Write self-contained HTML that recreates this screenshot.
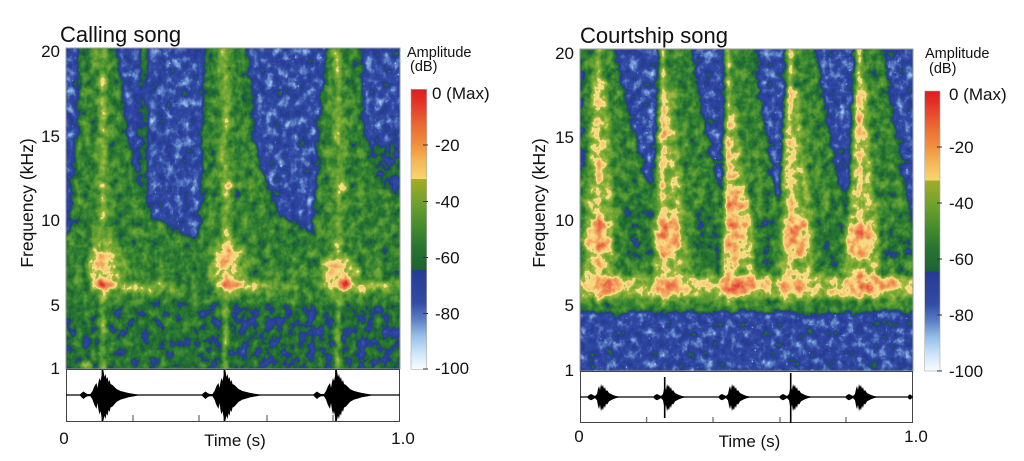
<!DOCTYPE html>
<html>
<head>
<meta charset="utf-8">
<style>
html,body{margin:0;padding:0;background:#fff;}
svg{display:block;}
text{font-family:"Liberation Sans",Arial,sans-serif;fill:#111;}
</style>
</head>
<body>
<svg width="1024" height="461" viewBox="0 0 1024 461" xmlns="http://www.w3.org/2000/svg">
<defs>
  <linearGradient id="cbar" x1="0" y1="0" x2="0" y2="1">
    <stop offset="0" stop-color="#de1c20"/>
    <stop offset="0.04" stop-color="#e23026"/>
    <stop offset="0.12" stop-color="#ea6432"/>
    <stop offset="0.20" stop-color="#f0913e"/>
    <stop offset="0.26" stop-color="#f5b958"/>
    <stop offset="0.32" stop-color="#f6d66e"/>
    <stop offset="0.32" stop-color="#a5ac26"/>
    <stop offset="0.40" stop-color="#73a22d"/>
    <stop offset="0.48" stop-color="#4b8e2d"/>
    <stop offset="0.56" stop-color="#287630"/>
    <stop offset="0.645" stop-color="#1c6234"/>
    <stop offset="0.645" stop-color="#263a94"/>
    <stop offset="0.76" stop-color="#324ba5"/>
    <stop offset="0.82" stop-color="#5a7dc3"/>
    <stop offset="0.88" stop-color="#96bee8"/>
    <stop offset="0.94" stop-color="#cde4f8"/>
    <stop offset="1" stop-color="#fafcff"/>
  </linearGradient>

  <clipPath id="cL"><rect x="0" y="0" width="334" height="321"/></clipPath>
  <clipPath id="cR"><rect x="0" y="0" width="333" height="322"/></clipPath>

  <filter id="fL" filterUnits="userSpaceOnUse" x="-10" y="-10" width="354" height="342" color-interpolation-filters="sRGB">
    <feGaussianBlur in="SourceGraphic" stdDeviation="2" result="b0"/>
    <feColorMatrix in="b0" type="matrix" values="1 0 0 0 0 0 1 0 0 0 0 0 1 0 0 0 0 0 0 1" result="b"/>
    <feTurbulence type="fractalNoise" baseFrequency="0.12 0.1" numOctaves="3" seed="4" result="t1"/>
    <feColorMatrix in="t1" type="matrix" values="1 0 0 0 0 1 0 0 0 0 1 0 0 0 0 0 0 0 0 1" result="n1"/>
    <feComposite in="b" in2="n1" operator="arithmetic" k1="0" k2="1" k3="0.38" k4="-0.19" result="c"/>
    <feColorMatrix in="c" type="matrix" values="1 0 0 0 0 0 1 0 0 0 0 0 1 0 0 0 0 0 0 1" result="c1"/>
    <feTurbulence type="fractalNoise" baseFrequency="0.35" numOctaves="1" seed="9" result="t2"/>
    <feColorMatrix in="t2" type="matrix" values="1 0 0 0 0 1 0 0 0 0 1 0 0 0 0 0 0 0 0 1" result="n2"/>
    <feComponentTransfer in="n2" result="s">
      <feFuncR type="linear" slope="7" intercept="-4.8"/>
      <feFuncG type="linear" slope="7" intercept="-4.8"/>
      <feFuncB type="linear" slope="7" intercept="-4.8"/>
    </feComponentTransfer>
    <feComponentTransfer in="b" result="m">
      <feFuncR type="linear" slope="-25" intercept="8.25"/>
      <feFuncG type="linear" slope="-25" intercept="8.25"/>
      <feFuncB type="linear" slope="-25" intercept="8.25"/>
    </feComponentTransfer>
    <feComposite in="s" in2="m" operator="arithmetic" k1="1" k2="0" k3="0" k4="0" result="sm"/>
    <feComponentTransfer in="sm" result="mult">
      <feFuncR type="linear" slope="-0.5" intercept="1"/>
      <feFuncG type="linear" slope="-0.5" intercept="1"/>
      <feFuncB type="linear" slope="-0.5" intercept="1"/>
    </feComponentTransfer>
    <feComposite in="c1" in2="mult" operator="arithmetic" k1="1" k2="0" k3="0" k4="0" result="c2"/>
    <feComponentTransfer in="c2">
      <feFuncR type="table" tableValues=".980 .922 .863 .804 .733 .659 .588 .510 .431 .353 .302 .247 .196 .188 .176 .169 .157 .149 .110 .125 .145 .161 .176 .216 .255 .294 .333 .373 .412 .451 .490 .557 .620 .686 .980 .976 .976 .973 .965 .957 .949 .941 .937 .929 .925 .918 .910 .902 .894 .882 .871"/>
      <feFuncG type="table" tableValues=".988 .957 .925 .894 .843 .796 .745 .659 .576 .490 .424 .361 .294 .282 .267 .255 .239 .227 .384 .412 .439 .463 .490 .518 .545 .569 .596 .616 .635 .655 .675 .698 .722 .745 .894 .863 .835 .804 .745 .686 .627 .580 .529 .482 .431 .384 .333 .286 .235 .188 .137"/>
      <feFuncB type="table" tableValues="1 .992 .980 .973 .953 .929 .910 .863 .812 .765 .725 .686 .647 .635 .620 .608 .592 .580 .204 .204 .200 .196 .196 .196 .196 .196 .196 .200 .204 .212 .216 .235 .255 .275 .549 .522 .498 .471 .431 .392 .353 .337 .322 .310 .294 .275 .255 .235 .216 .188 .157"/>
    </feComponentTransfer>
  </filter>

  <filter id="fR" filterUnits="userSpaceOnUse" x="-10" y="-10" width="353" height="342" color-interpolation-filters="sRGB">
    <feGaussianBlur in="SourceGraphic" stdDeviation="2" result="b0"/>
    <feColorMatrix in="b0" type="matrix" values="1 0 0 0 0 0 1 0 0 0 0 0 1 0 0 0 0 0 0 1" result="b"/>
    <feTurbulence type="fractalNoise" baseFrequency="0.12 0.1" numOctaves="3" seed="11" result="t1"/>
    <feColorMatrix in="t1" type="matrix" values="1 0 0 0 0 1 0 0 0 0 1 0 0 0 0 0 0 0 0 1" result="n1"/>
    <feComposite in="b" in2="n1" operator="arithmetic" k1="0" k2="1" k3="0.38" k4="-0.19" result="c"/>
    <feColorMatrix in="c" type="matrix" values="1 0 0 0 0 0 1 0 0 0 0 0 1 0 0 0 0 0 0 1" result="c1"/>
    <feTurbulence type="fractalNoise" baseFrequency="0.35" numOctaves="1" seed="23" result="t2"/>
    <feColorMatrix in="t2" type="matrix" values="1 0 0 0 0 1 0 0 0 0 1 0 0 0 0 0 0 0 0 1" result="n2"/>
    <feComponentTransfer in="n2" result="s">
      <feFuncR type="linear" slope="7" intercept="-4.8"/>
      <feFuncG type="linear" slope="7" intercept="-4.8"/>
      <feFuncB type="linear" slope="7" intercept="-4.8"/>
    </feComponentTransfer>
    <feComponentTransfer in="b" result="m">
      <feFuncR type="linear" slope="-25" intercept="8.25"/>
      <feFuncG type="linear" slope="-25" intercept="8.25"/>
      <feFuncB type="linear" slope="-25" intercept="8.25"/>
    </feComponentTransfer>
    <feComposite in="s" in2="m" operator="arithmetic" k1="1" k2="0" k3="0" k4="0" result="sm"/>
    <feComponentTransfer in="sm" result="mult">
      <feFuncR type="linear" slope="-0.5" intercept="1"/>
      <feFuncG type="linear" slope="-0.5" intercept="1"/>
      <feFuncB type="linear" slope="-0.5" intercept="1"/>
    </feComponentTransfer>
    <feComposite in="c1" in2="mult" operator="arithmetic" k1="1" k2="0" k3="0" k4="0" result="c2"/>
    <feComponentTransfer in="c2">
      <feFuncR type="table" tableValues=".980 .922 .863 .804 .733 .659 .588 .510 .431 .353 .302 .247 .196 .188 .176 .169 .157 .149 .110 .125 .145 .161 .176 .216 .255 .294 .333 .373 .412 .451 .490 .557 .620 .686 .980 .976 .976 .973 .965 .957 .949 .941 .937 .929 .925 .918 .910 .902 .894 .882 .871"/>
      <feFuncG type="table" tableValues=".988 .957 .925 .894 .843 .796 .745 .659 .576 .490 .424 .361 .294 .282 .267 .255 .239 .227 .384 .412 .439 .463 .490 .518 .545 .569 .596 .616 .635 .655 .675 .698 .722 .745 .894 .863 .835 .804 .745 .686 .627 .580 .529 .482 .431 .384 .333 .286 .235 .188 .137"/>
      <feFuncB type="table" tableValues="1 .992 .980 .973 .953 .929 .910 .863 .812 .765 .725 .686 .647 .635 .620 .608 .592 .580 .204 .204 .200 .196 .196 .196 .196 .196 .196 .200 .204 .212 .216 .235 .255 .275 .549 .522 .498 .471 .431 .392 .353 .337 .322 .310 .294 .275 .255 .235 .216 .188 .157"/>
    </feComponentTransfer>
  </filter>

  <polygon id="wL" points="-23,0 -21,-2 -19,-3.5 -17,-2 -15,-1 -12,-1 -10,-4 -8,-9 -6,-12 -5,-7 -4,-13 -3,-17 -2,-14 -1,-19 0,-22 1,-24 2,-18 3,-21 4,-16 5,-18 6,-13 7,-15 8,-11 10,-10 12,-8 14,-6 16,-5 18,-4 22,-3 26,-2 32,-1 38,0 32,1.2 26,2.3 22,3.5 18,4.6 16,5.8 14,6.9 12,9.2 10,11.5 8,12.6 7,17 6,15 5,20.7 4,18.4 3,24 2,20.7 1,25 0,25 -1,21.8 -2,16 -3,19.5 -4,15 -5,8 -6,13.8 -8,10.3 -10,4.6 -12,1.2 -15,1.2 -17,2.3 -19,4 -21,2.3" fill="#000"/>
  <polygon id="wR" points="-14,0 -12,-2 -10,-3 -8,-2 -6,-1 -4,-3 -3,-8 -2,-11 -1,-7 0,-13 1,-10 2,-12 3,-8 4,-10 5,-6 6,-7 8,-4 10,-3 12,-2 15,-1 20,0 15,1.1 12,2.2 10,3.3 8,4.4 6,7.7 5,6.6 4,11 3,8.8 2,13.2 1,11 0,14.3 -1,7.7 -2,12.1 -3,8.8 -4,3.3 -6,1.1 -8,2.2 -10,3.3 -12,2.2" fill="#000"/>
</defs>

<!-- ================= LEFT PANEL ================= -->
<text x="60" y="42" font-size="22">Calling song</text>

<g transform="translate(66,48)">
  <g clip-path="url(#cL)">
    <g filter="url(#fL)">
      <rect x="-10" y="-10" width="354" height="342" fill="#404040"/>
      <rect x="-10" y="252" width="354" height="80" fill="#5e5e5e"/>
      <rect x="7" y="252" width="133" height="80" fill="#666666"/>
      <polygon points="290,85 344,100 344,160 300,150" fill="#595959"/>
      <rect x="-10" y="188" width="354" height="66" fill="#696969"/>
      <polygon points="13,-10 49,-10 55,40 61,85 74,139 87,169 120,186 130,256 -10,256 -10,195 4,185 6,139 11,85" fill="#737373"/>
      <polygon points="139,-10 181,-10 187,85 201,139 217,169 245,186 250,256 128,256 134,169 136,139 137,85" fill="#737373"/>
      <polygon points="262,-10 294,-10 297,85 314,139 344,150 344,256 232,256 247,169 251,139 252,85" fill="#737373"/>
      <rect x="74" y="-10" width="7" height="150" fill="#636363"/>
      <rect x="29" y="-10" width="16" height="266" fill="#808080"/>
      <rect x="152" y="-10" width="16" height="266" fill="#808080"/>
      <rect x="264" y="-10" width="16" height="266" fill="#808080"/>
      <rect x="35" y="-10" width="4" height="342" fill="#a3a3a3"/>
      <rect x="157" y="-10" width="4" height="342" fill="#a3a3a3"/>
      <rect x="270" y="-10" width="4" height="342" fill="#a3a3a3"/>
      <!-- 12 kHz blobs -->
      <ellipse cx="37" cy="137" rx="5" ry="4" fill="#b8b8b8"/>
      <ellipse cx="178" cy="137" rx="14" ry="3" fill="#939393"/>
      <ellipse cx="162" cy="137" rx="6" ry="4" fill="#b8b8b8"/>
      <ellipse cx="276" cy="139" rx="5" ry="4" fill="#b8b8b8"/>
      <!-- call 1 -->
      <ellipse cx="40" cy="222" rx="20" ry="30" fill="#949494"/>
      <ellipse cx="80" cy="240" rx="40" ry="7" fill="#8c8c8c"/>
      <ellipse cx="37" cy="222" rx="13" ry="22" fill="#adadad"/>
      <ellipse cx="62" cy="238" rx="26" ry="4" fill="#adadad"/>
      <ellipse cx="36" cy="188" rx="4" ry="12" fill="#a3a3a3"/>
      <ellipse cx="36" cy="214" rx="6" ry="9" fill="#c7c7c7"/>
      <ellipse cx="38" cy="236" rx="11" ry="5" fill="#cccccc"/>
      <ellipse cx="39" cy="237" rx="7" ry="3" fill="#e8e8e8"/>
      <!-- call 2 -->
      <ellipse cx="163" cy="220" rx="20" ry="32" fill="#949494"/>
      <ellipse cx="200" cy="240" rx="35" ry="7" fill="#8c8c8c"/>
      <ellipse cx="161" cy="218" rx="12" ry="25" fill="#adadad"/>
      <ellipse cx="182" cy="238" rx="20" ry="4" fill="#adadad"/>
      <ellipse cx="160" cy="210" rx="5" ry="12" fill="#c7c7c7"/>
      <ellipse cx="163" cy="236" rx="11" ry="5" fill="#cccccc"/>
      <ellipse cx="163" cy="237" rx="7" ry="3" fill="#e8e8e8"/>
      <!-- call 3 -->
      <ellipse cx="274" cy="228" rx="22" ry="24" fill="#949494"/>
      <ellipse cx="315" cy="240" rx="35" ry="7" fill="#8c8c8c"/>
      <ellipse cx="272" cy="227" rx="14" ry="17" fill="#adadad"/>
      <ellipse cx="298" cy="238" rx="22" ry="4" fill="#adadad"/>
      <ellipse cx="270" cy="221" rx="7" ry="7" fill="#c7c7c7"/>
      <ellipse cx="278" cy="236" rx="11" ry="5" fill="#cccccc"/>
      <ellipse cx="278" cy="237" rx="8" ry="3" fill="#e8e8e8"/>
      <ellipse cx="21" cy="317" rx="6" ry="3" fill="#bdbdbd"/>
    </g>
  </g>
  <rect x="0" y="0" width="334" height="321" fill="none" stroke="#999" stroke-width="1"/>
</g>

<!-- left waveform -->
<rect x="66.5" y="369.5" width="333" height="52" fill="#fff" stroke="#444" stroke-width="1"/>
<line x1="66" y1="395" x2="400" y2="395" stroke="#000" stroke-width="1.2"/>
<g transform="translate(102.5,395)"><use href="#wL"/><line x1="0" y1="-25" x2="0" y2="26" stroke="#000" stroke-width="1.8"/></g>
<g transform="translate(224.5,395)"><use href="#wL"/><line x1="0" y1="-25" x2="0" y2="26" stroke="#000" stroke-width="1.8"/></g>
<g transform="translate(336,395)"><use href="#wL"/><line x1="0" y1="-25" x2="0" y2="26" stroke="#000" stroke-width="1.8"/></g>
<g stroke="#444" stroke-width="1">
  <line x1="133" y1="421" x2="133" y2="415"/>
  <line x1="199" y1="421" x2="199" y2="415"/>
  <line x1="267" y1="421" x2="267" y2="415"/>
  <line x1="333" y1="421" x2="333" y2="415"/>
</g>

<!-- left axes text -->
<g font-size="17" text-anchor="end">
  <text x="60" y="57">20</text>
  <text x="60" y="142">15</text>
  <text x="60" y="226">10</text>
  <text x="60" y="311">5</text>
  <text x="60" y="374">1</text>
</g>
<text transform="translate(33,203) rotate(-90)" font-size="17.5" text-anchor="middle">Frequency (kHz)</text>
<text x="64" y="444" font-size="17" text-anchor="middle">0</text>
<text x="235" y="446" font-size="17" text-anchor="middle">Time (s)</text>
<text x="403" y="444" font-size="17" text-anchor="middle">1.0</text>

<!-- left colorbar -->
<text x="407" y="57" font-size="14.5">Amplitude</text>
<text x="410" y="71" font-size="14.5">(dB)</text>
<rect x="411" y="89.3" width="15.7" height="280" fill="url(#cbar)" stroke="#aaa" stroke-width="0.6"/>
<g stroke="#333" stroke-width="1">
  <line x1="423" y1="145" x2="428" y2="145"/>
  <line x1="423" y1="201.5" x2="428" y2="201.5"/>
  <line x1="423" y1="257.5" x2="428" y2="257.5"/>
  <line x1="423" y1="313.5" x2="428" y2="313.5"/>
  <line x1="423" y1="369" x2="428" y2="369"/>
</g>
<g font-size="17">
  <text x="432" y="99">0 (Max)</text>
  <text x="435" y="151">-20</text>
  <text x="435" y="207.5">-40</text>
  <text x="435" y="263.5">-60</text>
  <text x="435" y="319.5">-80</text>
  <text x="435" y="374">-100</text>
</g>

<!-- ================= RIGHT PANEL ================= -->
<text x="580" y="43" font-size="22">Courtship song</text>

<g transform="translate(580,49)">
  <g clip-path="url(#cR)">
    <g filter="url(#fR)">
      <rect x="-10" y="-10" width="353" height="342" fill="#404040"/>
      <rect x="-10" y="263" width="353" height="70" fill="#424242"/>
      <rect x="-10" y="-10" width="353" height="273" fill="#757575"/>
      <rect x="-10" y="-10" width="14" height="140" fill="#595959"/>
      <!-- blue gaps -->
      <polygon points="32,-10 79,-10 78,60 75,110 72,151 60,110 48,60 38,20" fill="#404040"/>
      <polygon points="109,-10 145,-10 144,60 143,120 142,158 132,110 120,50" fill="#404040"/>
      <polygon points="172,-10 205,-10 204,70 202,120 199,164 190,110 180,50" fill="#404040"/>
      <polygon points="234,-10 275,-10 273,70 270,120 265,171 255,110 243,50" fill="#404040"/>
      <polygon points="302,-10 343,-10 343,178 333,178 320,110 310,50" fill="#404040"/>
      <!-- darker green pockets -->
      <ellipse cx="57" cy="180" rx="14" ry="35" fill="#666666"/>
      <ellipse cx="128" cy="185" rx="14" ry="32" fill="#666666"/>
      <ellipse cx="188" cy="190" rx="10" ry="28" fill="#696969"/>
      <ellipse cx="250" cy="190" rx="11" ry="28" fill="#696969"/>
      <ellipse cx="318" cy="200" rx="15" ry="20" fill="#696969"/>
      <!-- yellow columns -->
      <polygon points="12,30 26,30 30,100 34,170 34,250 2,250 6,170 10,100" fill="#9e9e9e"/>
      <polygon points="78,40 92,40 98,100 106,165 110,250 72,250 76,165 78,100" fill="#9e9e9e"/>
      <polygon points="145,60 156,60 162,110 172,165 176,250 142,250 143,165 144,110" fill="#9e9e9e"/>
      <polygon points="205,40 218,40 224,100 232,165 234,250 199,250 202,165 204,100" fill="#9e9e9e"/>
      <polygon points="275,30 286,30 290,100 298,165 300,250 262,250 268,165 272,100" fill="#9e9e9e"/>
      <!-- 6 kHz band -->
      <rect x="-10" y="227" width="353" height="22" fill="#a6a6a6"/>
      <!-- orange spots along columns -->
      <ellipse cx="20" cy="46" rx="4" ry="10" fill="#bdbdbd"/>
      <ellipse cx="20" cy="101" rx="4" ry="8" fill="#bdbdbd"/>
      <ellipse cx="84" cy="65" rx="4" ry="8" fill="#bdbdbd"/>
      <ellipse cx="84" cy="86" rx="4" ry="6" fill="#bdbdbd"/>
      <ellipse cx="279" cy="72" rx="4" ry="38" fill="#bdbdbd"/>
      <ellipse cx="150" cy="120" rx="4" ry="20" fill="#b8b8b8"/>
      <ellipse cx="212" cy="110" rx="4" ry="18" fill="#b3b3b3"/>
      <!-- orange blobs -->
      <ellipse cx="18" cy="190" rx="13" ry="20" fill="#bdbdbd"/>
      <ellipse cx="88" cy="187" rx="14" ry="22" fill="#bdbdbd"/>
      <ellipse cx="157" cy="175" rx="11" ry="38" fill="#c2c2c2"/>
      <ellipse cx="216" cy="187" rx="14" ry="22" fill="#bdbdbd"/>
      <ellipse cx="281" cy="191" rx="16" ry="18" fill="#bdbdbd"/>
      <!-- band orange patches -->
      <ellipse cx="24" cy="236" rx="20" ry="10" fill="#c2c2c2"/>
      <ellipse cx="92" cy="238" rx="22" ry="9" fill="#c2c2c2"/>
      <ellipse cx="160" cy="236" rx="24" ry="10" fill="#c7c7c7"/>
      <ellipse cx="216" cy="238" rx="16" ry="9" fill="#c2c2c2"/>
      <ellipse cx="290" cy="236" rx="28" ry="10" fill="#c2c2c2"/>
      <!-- click lines -->
      <rect x="17" y="-10" width="3" height="266" fill="#cccccc"/>
      <rect x="81.5" y="-10" width="3" height="266" fill="#cccccc"/>
      <rect x="146.5" y="-10" width="3" height="266" fill="#cccccc"/>
      <rect x="209" y="-10" width="3" height="266" fill="#cccccc"/>
      <rect x="278" y="-10" width="3" height="266" fill="#cccccc"/>
      <!-- red cores -->
      <ellipse cx="20" cy="181" rx="4" ry="5" fill="#dedede"/>
      <ellipse cx="20" cy="198" rx="4" ry="4" fill="#dedede"/>
      <ellipse cx="85" cy="184" rx="5" ry="7" fill="#dedede"/>
      <ellipse cx="152" cy="160" rx="3" ry="9" fill="#dedede"/>
      <ellipse cx="215" cy="181" rx="5" ry="7" fill="#dedede"/>
      <ellipse cx="280" cy="184" rx="5" ry="6" fill="#dedede"/>
      <ellipse cx="26" cy="236" rx="8" ry="5" fill="#dedede"/>
      <ellipse cx="90" cy="237" rx="7" ry="4" fill="#dedede"/>
      <ellipse cx="155" cy="238" rx="11" ry="5" fill="#e3e3e3"/>
      <ellipse cx="215" cy="238" rx="5" ry="4" fill="#d9d9d9"/>
      <ellipse cx="287" cy="238" rx="9" ry="5" fill="#dedede"/>
    </g>
  </g>
  <rect x="0" y="0" width="333" height="322" fill="none" stroke="#999" stroke-width="1"/>
</g>

<!-- right waveform -->
<rect x="580.5" y="371.5" width="332" height="51" fill="#fff" stroke="#444" stroke-width="1"/>
<line x1="580" y1="397" x2="913" y2="397" stroke="#000" stroke-width="1.2"/>
<g transform="translate(601,397)"><use href="#wR"/></g>
<g transform="translate(667,397)"><use href="#wR"/><line x1="-2.3" y1="-20" x2="-2.3" y2="21" stroke="#000" stroke-width="1.6"/></g>
<g transform="translate(732,397)"><use href="#wR"/></g>
<g transform="translate(793,397)"><use href="#wR"/><line x1="-2.3" y1="-24" x2="-2.3" y2="26" stroke="#000" stroke-width="1.6"/></g>
<g transform="translate(859,397)"><use href="#wR"/></g>
<ellipse cx="910" cy="397" rx="2" ry="2.5" fill="#000"/>
<g stroke="#444" stroke-width="1">
  <line x1="646.7" y1="423" x2="646.7" y2="417"/>
  <line x1="713" y1="423" x2="713" y2="417"/>
  <line x1="780" y1="423" x2="780" y2="417"/>
  <line x1="846" y1="423" x2="846" y2="417"/>
</g>

<!-- right axes text -->
<g font-size="17" text-anchor="end">
  <text x="574" y="59">20</text>
  <text x="574" y="143">15</text>
  <text x="574" y="226">10</text>
  <text x="574" y="311">5</text>
  <text x="574" y="376">1</text>
</g>
<text transform="translate(545,203) rotate(-90)" font-size="17.5" text-anchor="middle">Frequency (kHz)</text>
<text x="579" y="442" font-size="17" text-anchor="middle">0</text>
<text x="749.5" y="447" font-size="17" text-anchor="middle">Time (s)</text>
<text x="916" y="442" font-size="17" text-anchor="middle">1.0</text>

<!-- right colorbar -->
<text x="925" y="58" font-size="14.5">Amplitude</text>
<text x="929" y="73" font-size="14.5">(dB)</text>
<rect x="924.7" y="91" width="15.3" height="280" fill="url(#cbar)" stroke="#aaa" stroke-width="0.6"/>
<g stroke="#333" stroke-width="1">
  <line x1="937" y1="147" x2="942" y2="147"/>
  <line x1="937" y1="203" x2="942" y2="203"/>
  <line x1="937" y1="259" x2="942" y2="259"/>
  <line x1="937" y1="315" x2="942" y2="315"/>
  <line x1="937" y1="371" x2="942" y2="371"/>
</g>
<g font-size="17">
  <text x="949" y="100">0 (Max)</text>
  <text x="949" y="153">-20</text>
  <text x="949" y="209">-40</text>
  <text x="949" y="265">-60</text>
  <text x="949" y="321">-80</text>
  <text x="949" y="377">-100</text>
</g>
</svg>
</body>
</html>
